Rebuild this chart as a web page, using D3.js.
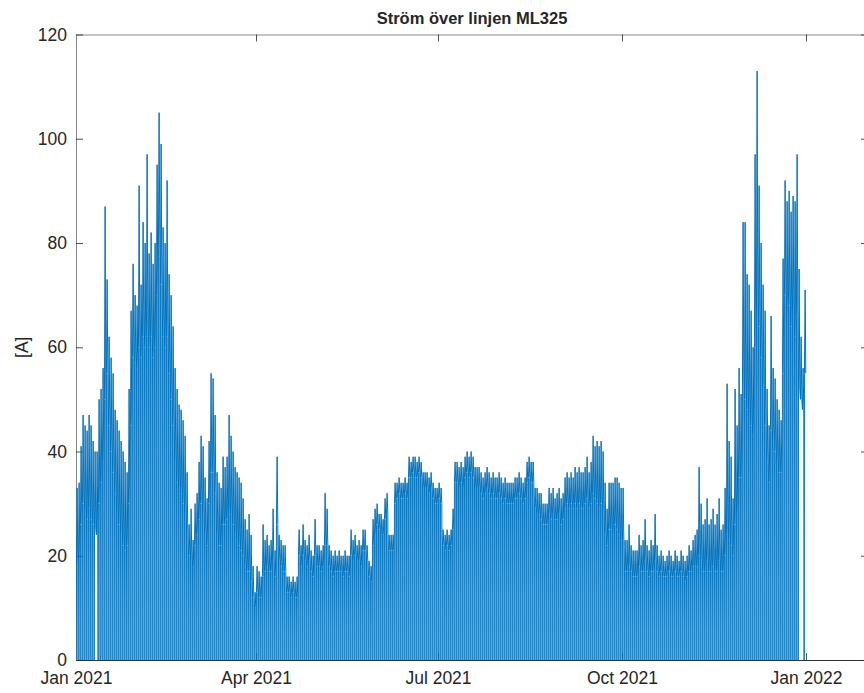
<!DOCTYPE html>
<html>
<head>
<meta charset="utf-8">
<script src="https://cdn.jsdelivr.net/npm/d3@7"></script>
<style>
  body { margin: 0; background: #fff; }
  svg { display: block; }
  text { font-family: "Liberation Sans", Arial, Helvetica, sans-serif; fill: #262626; }
</style>
</head>
<body>
<svg id="chart" width="864" height="693"></svg>
<script>
// Hourly current on line ML325, summarised per day (2021):
// daily high, daily low, and a drop to 0 A at each day boundary.
const titleText = "Ström över linjen ML325";
const yLabelText = "[A]";
const xTickDates = [Date.UTC(2021,0,1), Date.UTC(2021,3,1), Date.UTC(2021,6,1), Date.UTC(2021,9,1), Date.UTC(2022,0,1)];
const xTickLabels = ["Jan 2021", "Apr 2021", "Jul 2021", "Oct 2021", "Jan 2022"];
const yTicks = [0, 20, 40, 60, 80, 100, 120];

const dailyPeak = [
  33, 34, 41, 47, 45, 44, 47, 45, 42, 40,
  40, 50, 52, 56, 87, 73, 62, 58, 55, 48,
  46, 44, 42, 40, 38, 36, 52, 67, 76, 70,
  68, 91, 72, 84, 80, 97, 78, 82, 76, 80,
  95, 105, 99, 83, 80, 92, 74, 70, 64, 56,
  52, 49, 48, 46, 43, 36, 26, 29, 23, 30,
  32, 38, 43, 41, 35, 31, 42, 55, 54, 47,
  36, 34, 33, 39, 37, 39, 47, 43, 40, 37,
  36, 35, 34, 31, 27, 25, 28, 24, 18, 13,
  18, 17, 16, 26, 23, 24, 22, 23, 29, 21,
  39, 24, 23, 22, 22, 16, 16, 15, 16, 15,
  16, 25, 22, 26, 23, 22, 24, 21, 20, 27,
  22, 22, 21, 22, 32, 29, 22, 21, 20, 21,
  20, 21, 20, 20, 21, 20, 20, 25, 23, 24,
  22, 23, 22, 25, 25, 22, 19, 18, 27, 29,
  30, 28, 28, 27, 31, 32, 24, 24, 24, 34,
  34, 35, 34, 34, 35, 34, 39, 38, 39, 39,
  38, 39, 38, 36, 36, 36, 35, 36, 34, 33,
  33, 34, 33, 25, 24, 25, 24, 25, 29, 38,
  38, 37, 38, 37, 39, 40, 39, 40, 39, 37,
  37, 37, 36, 35, 36, 37, 36, 35, 36, 35,
  35, 36, 35, 34, 35, 34, 34, 34, 34, 35,
  35, 36, 35, 34, 35, 38, 39, 38, 38, 33,
  33, 32, 32, 30, 30, 30, 33, 32, 33, 31,
  32, 33, 31, 32, 35, 36, 35, 36, 35, 37,
  36, 37, 36, 36, 37, 39, 36, 38, 43, 41,
  42, 41, 42, 40, 34, 29, 34, 34, 34, 35,
  35, 34, 33, 33, 23, 23, 26, 22, 21, 21,
  21, 24, 22, 23, 27, 22, 21, 23, 22, 28,
  22, 20, 21, 20, 19, 20, 21, 20, 19, 21,
  20, 19, 21, 20, 19, 20, 22, 21, 23, 24,
  25, 37, 30, 26, 27, 31, 26, 27, 29, 26,
  28, 31, 25, 26, 33, 53, 42, 39, 31, 52,
  45, 56, 51, 84, 84, 74, 72, 67, 60, 97,
  113, 91, 80, 72, 67, 52, 45, 66, 56, 54,
  50, 48, 46, 77, 92, 88, 90, 86, 89, 88,
  97, 75, 62, 56, 71
];

const dailyBase = [
  18, 19, 26, 30, 28, 27, 29, 27, 26, 25,
  24, 30, 34, 38, 50, 55, 45, 40, 36, 32,
  28, 26, 24, 22, 21, 22, 30, 45, 58, 57,
  56, 60, 58, 62, 60, 62, 60, 62, 58, 60,
  70, 80, 72, 62, 60, 62, 55, 50, 45, 38,
  34, 33, 32, 30, 28, 24, 20, 19, 18, 22,
  24, 27, 30, 28, 24, 22, 30, 36, 36, 32,
  24, 22, 22, 26, 26, 27, 28, 28, 26, 24,
  23, 22, 21, 20, 18, 17, 17, 15, 12, 10,
  13, 12, 12, 16, 17, 18, 17, 17, 19, 16,
  26, 19, 18, 17, 17, 13, 13, 12, 13, 12,
  12, 20, 18, 20, 19, 18, 19, 17, 16, 20,
  18, 18, 17, 18, 22, 22, 18, 17, 16, 17,
  17, 17, 17, 16, 17, 17, 16, 20, 19, 20,
  19, 19, 18, 21, 21, 19, 16, 15, 22, 24,
  26, 25, 24, 24, 27, 28, 21, 21, 21, 30,
  31, 32, 31, 31, 32, 31, 35, 35, 36, 35,
  35, 36, 35, 33, 33, 33, 32, 33, 31, 30,
  30, 31, 30, 22, 21, 22, 21, 22, 25, 34,
  34, 33, 34, 33, 35, 36, 35, 36, 35, 33,
  33, 33, 32, 31, 32, 33, 32, 31, 32, 31,
  31, 32, 31, 30, 31, 30, 30, 30, 30, 31,
  31, 32, 31, 30, 31, 34, 35, 34, 34, 29,
  28, 28, 27, 26, 26, 26, 28, 27, 28, 27,
  27, 28, 26, 27, 29, 30, 29, 30, 29, 30,
  29, 30, 29, 29, 30, 31, 29, 30, 32, 31,
  30, 29, 30, 28, 24, 22, 25, 25, 24, 26,
  25, 24, 23, 23, 17, 17, 18, 17, 16, 16,
  16, 18, 17, 17, 19, 17, 16, 17, 17, 19,
  17, 16, 17, 16, 16, 16, 17, 16, 16, 17,
  16, 16, 17, 16, 15, 16, 17, 17, 18, 18,
  18, 20, 19, 17, 17, 19, 17, 17, 18, 17,
  17, 19, 17, 17, 20, 24, 23, 22, 20, 26,
  28, 35, 35, 52, 50, 48, 47, 45, 43, 60,
  66, 64, 58, 52, 45, 38, 34, 44, 42, 40,
  38, 36, 36, 55, 70, 66, 68, 64, 66, 62,
  66, 52, 50, 48, 55
];

// days on which the current never fell to zero
const noZeroDays = [10, 362, 363];

const DAY = 86400000;
const t0 = Date.UTC(2021, 0, 1);

// sample sequence per day: drop to zero, back to the low, up to the high, down to the low
const samples = [];
dailyPeak.forEach((pk, d) => {
  const start = t0 + d * DAY;
  if (!noZeroDays.includes(d)) samples.push({ t: start + 0.06 * DAY, v: 0 });
  samples.push({ t: start + 0.22 * DAY, v: dailyBase[d] });
  samples.push({ t: start + 0.56 * DAY, v: pk });
  samples.push({ t: start + 0.9 * DAY, v: dailyBase[d] });
});

const svg = d3.select("#chart");
const plotL = 76, plotR = 868, plotT = 34.5, plotB = 660;

const x = d3.scaleUtc().domain([Date.UTC(2021, 0, 1), Date.UTC(2022, 1, 1)]).range([plotL, plotR]);
const y = d3.scaleLinear().domain([0, 120]).range([plotB, plotT]);

svg.append("defs").append("clipPath").attr("id", "plotClip")
  .append("rect").attr("x", plotL).attr("y", plotT).attr("width", plotR - plotL).attr("height", plotB - plotT);

// axes box with inward ticks on every side
const tickLen = 7;
const axisColor = "#262626";

const gBottom = svg.append("g").attr("transform", `translate(0,${plotB})`)
  .call(d3.axisBottom(x).tickValues(xTickDates).tickFormat((d, i) => xTickLabels[i])
    .tickSizeInner(-tickLen).tickSizeOuter(0).tickPadding(12));
const gTop = svg.append("g").attr("transform", `translate(0,${plotT})`)
  .call(d3.axisTop(x).tickValues(xTickDates).tickFormat("")
    .tickSizeInner(-tickLen).tickSizeOuter(0));
const gLeft = svg.append("g").attr("transform", `translate(${plotL},0)`)
  .call(d3.axisLeft(y).tickValues(yTicks).tickFormat(d3.format("d"))
    .tickSizeInner(-tickLen).tickSizeOuter(0).tickPadding(9));
const gRight = svg.append("g").attr("transform", `translate(${plotR},0)`)
  .call(d3.axisRight(y).tickValues(yTicks).tickFormat("")
    .tickSizeInner(-tickLen).tickSizeOuter(0));

[gBottom, gTop, gLeft, gRight].forEach(g => {
  g.select(".domain").attr("stroke", "#8a8a8a").attr("stroke-width", 1);
  g.selectAll(".tick line").attr("stroke", axisColor).attr("stroke-width", 0.8);
  g.selectAll(".tick text").attr("fill", "#262626").attr("font-size", 17.5)
    .attr("font-family", "'Liberation Sans', Arial, Helvetica, sans-serif");
});
gBottom.select(".domain").attr("stroke", "#333");

// the current trace
const line = d3.line().x(d => x(d.t)).y(d => y(d.v));
svg.append("path")
  .datum(samples)
  .attr("clip-path", "url(#plotClip)")
  .attr("fill", "none")
  .attr("stroke", "#0072BD")
  .attr("stroke-width", 1.0)
  .attr("stroke-linejoin", "miter")
  .attr("d", line);

// title and y label
svg.append("text")
  .attr("x", (plotL + plotR) / 2).attr("y", 24)
  .attr("text-anchor", "middle")
  .attr("font-size", 16.5).attr("font-weight", "bold")
  .text(titleText);

svg.append("text")
  .attr("transform", `translate(28,${(plotT + plotB) / 2}) rotate(-90)`)
  .attr("text-anchor", "middle")
  .attr("font-size", 17.5)
  .text(yLabelText);
</script>
</body>
</html>
